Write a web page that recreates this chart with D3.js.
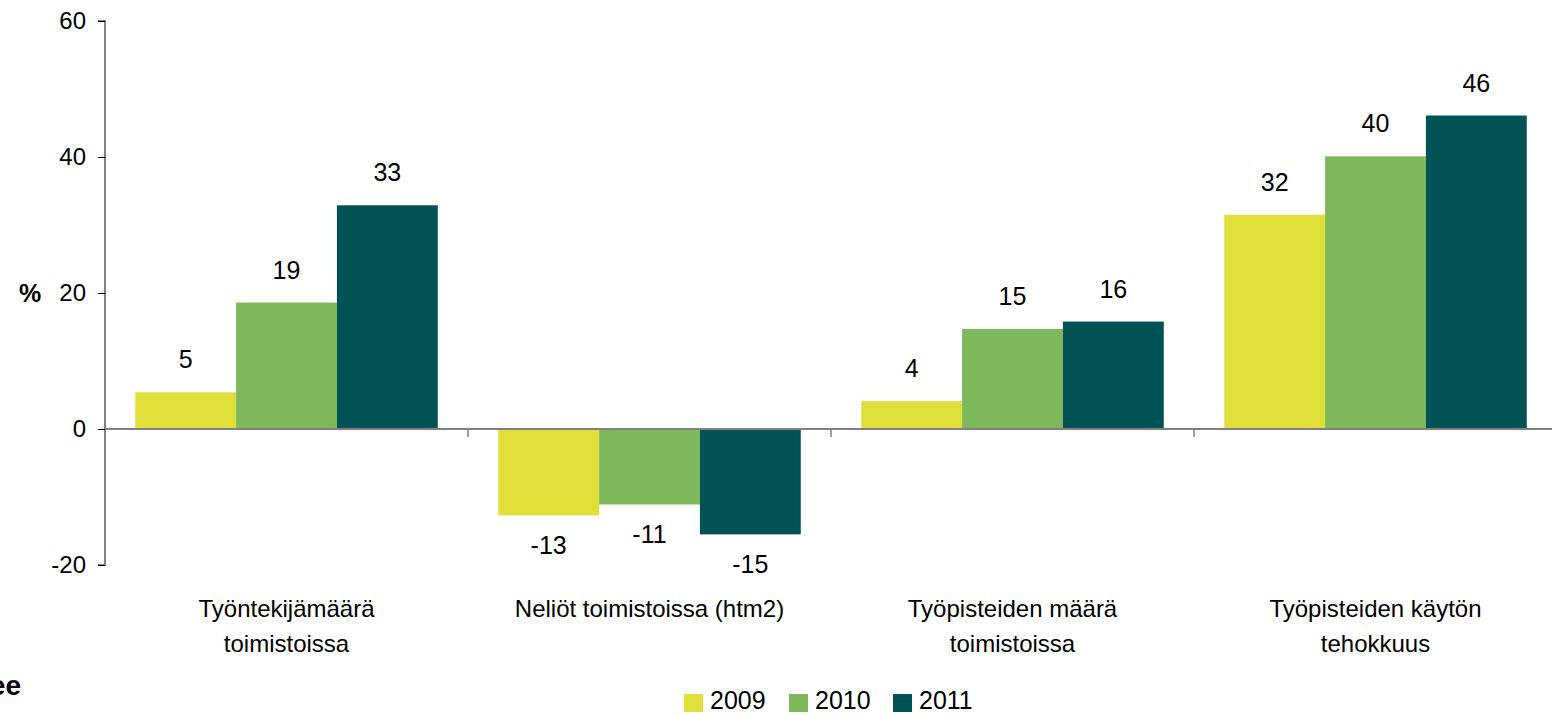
<!DOCTYPE html>
<html>
<head>
<meta charset="utf-8">
<script src="https://cdn.jsdelivr.net/npm/d3@7"></script>
<style>
  body { margin: 0; background: #fff; }
  svg { display: block; font-family: "Liberation Sans", Arial, sans-serif; }
</style>
</head>
<body>
<svg width="1552" height="717"></svg>
<script>
// data
var categories = [["Työntekijämäärä", "toimistoissa"], ["Neliöt toimistoissa (htm2)"], ["Työpisteiden määrä", "toimistoissa"], ["Työpisteiden käytön", "tehokkuus"]];
var years = ["2009", "2010", "2011"];
var v2009 = [5.4, -12.7, 4.1, 31.5];
var v2010 = [18.6, -11.1, 14.7, 40.1];
var v2011 = [32.9, -15.5, 15.8, 46.1];
var yTicks = [-20, 0, 20, 40, 60];
var colors = ["#e0df3a", "#7db85a", "#005254"];

var series = [v2009, v2010, v2011];

var svg = d3.select("svg");

var x0 = d3.scaleBand().domain(d3.range(categories.length)).range([105, 1557]).paddingInner(0).paddingOuter(0);
var x1 = d3.scaleBand().domain(years).range([0, x0.bandwidth()]).paddingOuter(0.3).paddingInner(0);
var y = d3.scaleLinear().domain([-20, 60]).range([565, 21]);

// y axis
var yAxis = svg.append("g")
  .attr("transform", "translate(105,0)")
  .call(d3.axisLeft(y).tickValues(yTicks).tickSize(7).tickPadding(12).tickFormat(function(d) { return String(d); }));
yAxis.select(".domain").attr("stroke", "#808080").attr("stroke-width", 2).attr("d", "M-7,21H0V565H-7");
yAxis.selectAll(".tick line").attr("stroke", "#000");
yAxis.selectAll(".tick text").attr("font-size", 24).attr("fill", "#000").attr("font-family", "Liberation Sans, Arial, sans-serif");

svg.append("text").attr("x", 30).attr("y", 302).attr("text-anchor", "middle")
  .attr("font-size", 25).attr("font-weight", "bold").text("%");

// bars
var groups = svg.selectAll(".grp").data(categories).enter().append("g")
  .attr("class", "grp")
  .attr("transform", function(d, i) { return "translate(" + x0(i) + ",0)"; });

groups.each(function(c, i) {
  var g = d3.select(this);
  years.forEach(function(yr, k) {
    var v = series[k][i];
    g.append("rect")
      .attr("x", x1(yr))
      .attr("width", x1.bandwidth())
      .attr("y", v >= 0 ? y(v) : y(0))
      .attr("height", Math.abs(y(v) - y(0)))
      .attr("fill", colors[k]);
    g.append("text")
      .attr("x", x1(yr) + x1.bandwidth() / 2)
      .attr("y", v >= 0 ? y(v) - 24 : y(v) + 39)
      .attr("text-anchor", "middle")
      .attr("font-size", 25)
      .text(Math.round(v));
  });
});

// x axis at zero
var xAxis = svg.append("g").attr("transform", "translate(0," + y(0) + ")");
xAxis.append("line").attr("x1", 105).attr("x2", 1552).attr("stroke", "#808080").attr("stroke-width", 2);
d3.range(1, categories.length).forEach(function(i) {
  xAxis.append("line").attr("x1", x0(i)).attr("x2", x0(i)).attr("y1", 0).attr("y2", 8).attr("stroke", "#808080").attr("stroke-width", 1.5);
});

// category labels
svg.selectAll(".cat").data(categories).enter().append("text")
  .attr("class", "cat")
  .attr("text-anchor", "middle")
  .attr("font-size", 24)
  .attr("x", function(d, i) { return x0(i) + x0.bandwidth() / 2; })
  .attr("y", 617)
  .each(function(d) {
    var t = d3.select(this);
    d.forEach(function(line, j) {
      t.append("tspan").attr("x", t.attr("x")).attr("dy", j === 0 ? 0 : 35).text(line);
    });
  });

// legend
var legendX = [684, 789, 893];
var legend = svg.selectAll(".leg").data(years).enter().append("g")
  .attr("transform", function(d, i) { return "translate(" + legendX[i] + ",694)"; });
legend.append("rect").attr("width", 19).attr("height", 18).attr("fill", function(d, i) { return colors[i]; });
legend.append("text").attr("x", 26).attr("y", 15).attr("font-size", 25).text(function(d) { return d; });

// cut-off source note at the left edge, as in the original
svg.append("text").attr("x", 21).attr("y", 695).attr("text-anchor", "end")
  .attr("font-size", 28).attr("font-weight", "bold").text("ee");
</script>
</body>
</html>
